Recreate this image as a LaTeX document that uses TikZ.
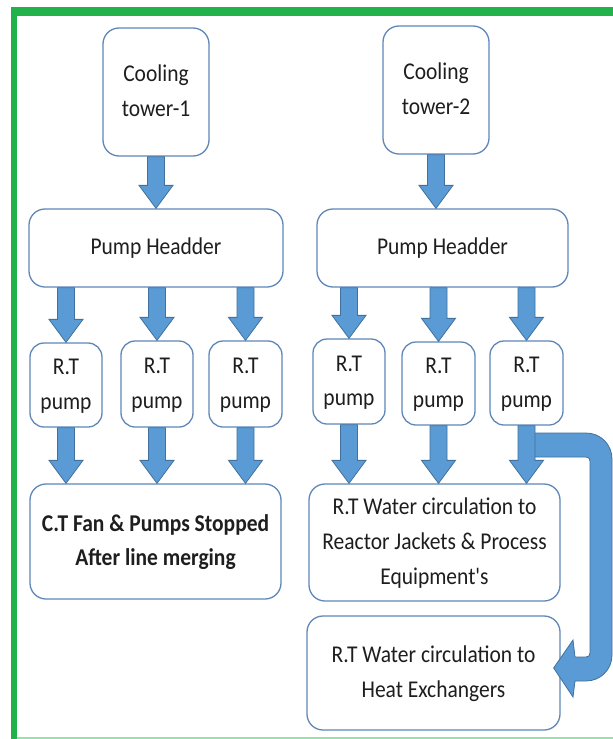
\documentclass[tikz,border=0pt]{standalone}
\usepackage{fontspec}
\setmainfont{Carlito}
\usetikzlibrary{calc}
\definecolor{bfill}{HTML}{5B9BD5}
\definecolor{bline}{HTML}{41719C}
\definecolor{boxline}{HTML}{5F87B8}
\definecolor{gfr}{HTML}{22B24C}
\definecolor{gfl}{HTML}{98E2AA}
\definecolor{txt}{HTML}{1E1E1E}
\newcommand{\stx}[1]{\scalebox{1}[1.12]{\begin{tabular}{@{}c@{}}#1\end{tabular}}}
\newcommand{\bdown}[2]{\draw[barrow] let \p1=#1, \p2=#2 in (\x1-8.5pt,\y1) -- (\x1-8.5pt,\y2+23pt) -- (\x1-17pt,\y2+23pt) -- (\x1,\y2) -- (\x1+17pt,\y2+23pt) -- (\x1+8.5pt,\y2+23pt) -- (\x1+8.5pt,\y1) -- cycle;}
\tikzset{
  box/.style={draw=boxline, line width=1.3pt, rounded corners=16pt, fill=white, inner sep=0pt,
    font=\fontsize{21.5}{31}\selectfont, text=txt},
  barrow/.style={fill=bfill, draw=bline, line width=0.8pt, line join=miter},
}
\begin{document}
\begin{tikzpicture}[x=1pt,y=-1pt]
\useasboundingbox (0,0) rectangle (613,739);
\fill[white] (0,0) rectangle (613,739);
% green frame
\fill[gfr] (11,7) rectangle (613,15.5);
\fill[gfr] (11,7) rectangle (16.5,739);
\fill[gfl] (16.5,737.3) rectangle (613,739);

% nodes
\node[box, minimum width=106pt, minimum height=128pt] (ct1) at (156,92) {\stx{Cooling\\tower-1}};
\node[box, minimum width=106pt, minimum height=128pt] (ct2) at (436,90) {\stx{Cooling\\tower-2}};
\node[box, minimum width=254pt, minimum height=78pt] (ph1) at (156,248) {\stx{Pump Headder}};
\node[box, minimum width=251pt, minimum height=78pt] (ph2) at (442.5,248) {\stx{Pump Headder}};

\node[box, rounded corners=14pt, minimum width=72pt, minimum height=84pt] (p1) at (66,385) {\stx{R.T\\pump}};
\node[box, rounded corners=14pt, minimum width=72pt, minimum height=86pt] (p2) at (157,384) {\stx{R.T\\pump}};
\node[box, rounded corners=14pt, minimum width=73pt, minimum height=86pt] (p3) at (245.5,384) {\stx{R.T\\pump}};
\node[box, rounded corners=14pt, minimum width=72pt, minimum height=85pt] (p4) at (349,381.5) {\stx{R.T\\pump}};
\node[box, rounded corners=14pt, minimum width=73pt, minimum height=83pt] (p5) at (438.5,383.5) {\stx{R.T\\pump}};
\node[box, rounded corners=14pt, minimum width=73pt, minimum height=84pt] (p6) at (526.5,383) {\stx{R.T\\pump}};

\node[box, minimum width=251pt, minimum height=115pt] (ctb) at (155.5,541.5) {\stx{\bfseries C.T Fan \& Pumps Stopped\\\bfseries After line merging}};
\node[box, minimum width=251pt, minimum height=117pt] (rt1) at (434.5,542.5) {\stx{R.T Water circulation to\\Reactor Jackets \& Process\\Equipment\textquotesingle s}};
\node[box, minimum width=253pt, minimum height=114pt] (rt2) at (433.5,673) {\stx{R.T Water circulation to\\Heat Exchangers}};

% curved arrow from pump 6 to heat exchangers
\coordinate (ctip) at ($(rt2.east |- 0,668)+(-7,0)$);
\draw[barrow] (531,433) -- (586,433) .. controls (600.5,433) and (612,444.5) .. (612,459)
  -- (612,655) .. controls (612,669.5) and (600.5,681) .. (586,681) -- (575,681)
  -- (573,697) -- (ctip) -- (573,640) -- (575,657) -- (586,657)
  .. controls (588.5,657) and (590,655.5) .. (590,653) -- (590,461)
  .. controls (590,458.8) and (588.8,457) .. (586,457) -- (531,457) -- cycle;

% straight block arrows
\bdown{(ct1.south)}{(ph1.north)}
\bdown{(ct2.south)}{(ph2.north)}
\bdown{(ph1.south -| p1.north)}{(p1.north)}
\bdown{(ph1.south -| p2.north)}{(p2.north)}
\bdown{(ph1.south -| p3.north)}{(p3.north)}
\bdown{(ph2.south -| p4.north)}{(p4.north)}
\bdown{(ph2.south -| p5.north)}{(p5.north)}
\bdown{(ph2.south -| p6.north)}{(p6.north)}
\bdown{(p1.south)}{(p1.south |- ctb.north)}
\bdown{(p2.south)}{(p2.south |- ctb.north)}
\bdown{(p3.south)}{(p3.south |- ctb.north)}
\bdown{(p4.south)}{(p4.south |- rt1.north)}
\bdown{(p5.south)}{(p5.south |- rt1.north)}
\bdown{(p6.south)}{(p6.south |- rt1.north)}
\end{tikzpicture}
\end{document}
